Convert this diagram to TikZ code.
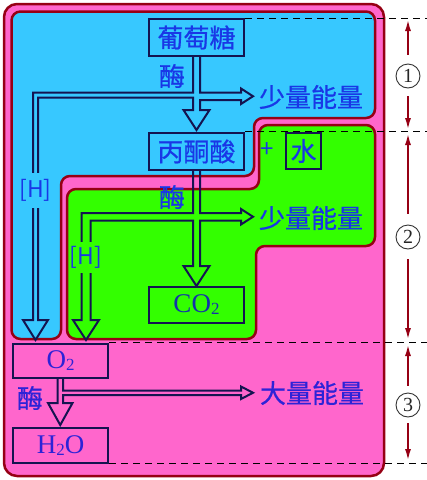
\documentclass[tikz,border=0pt]{standalone}
\usepackage{fontspec}
\setmainfont{Liberation Serif}
\newfontfamily\cjk[FakeBold=0.6]{Noto Sans CJK SC}
\newfontfamily\cjkthin{Noto Sans CJK SC}
\usetikzlibrary{arrows.meta}
\definecolor{pinkbg}{RGB}{255,102,204}
\definecolor{skyb}{RGB}{55,200,255}
\definecolor{limeg}{RGB}{51,255,0}
\definecolor{dred}{RGB}{150,0,20}
\definecolor{navy}{RGB}{20,20,80}
\definecolor{txtb}{RGB}{25,55,230}
\definecolor{txtp}{RGB}{45,35,215}
\definecolor{txtc}{RGB}{20,50,170}
\newcommand{\chsub}[1]{\raisebox{-2pt}{\fontsize{17}{17}\selectfont #1}}
\begin{document}
\begin{tikzpicture}[x=1pt,y=-1pt,
  region/.style={draw=dred, line width=2.5pt, rounded corners=9pt},
  box/.style={draw=navy, line width=2.5pt, inner sep=0pt, minimum width=95pt, minimum height=37pt},
  pipe/.style={draw=navy, line width=2pt, line join=miter},
  cjklab/.style={font=\cjk\fontsize{26}{26}\selectfont, text=txtb, inner sep=0pt},
  chem/.style={font=\fontsize{27}{27}\selectfont, text=txtp},
  hlab/.style={font=\cjkthin\fontsize{23}{23}\selectfont, text=txtb, inner sep=1pt},
  level/.style={draw=dred, line width=2pt, -{Latex[length=12pt,width=6pt]}},
  sep/.style={draw=black, line width=0.9pt, dash pattern=on 7pt off 5pt},
  num/.style={circle, draw=black!80, line width=0.9pt, minimum size=24pt, inner sep=0pt, font=\fontsize{20}{20}\selectfont, text=black!85}
]
\useasboundingbox (0,0) rectangle (427,480);
% regions
\draw[region, fill=pinkbg, rounded corners=13pt] (4,4) rectangle (384,476);
\draw[region, fill=skyb] (11.5,11.5) -- (375,11.5) -- (375,118) -- (254,118) -- (254,176) -- (61,176) -- (61,339) -- (11.5,339) -- cycle;
\draw[region, fill=limeg] (259,125) -- (375,125) -- (375,246) -- (256,246) -- (256,339) -- (67,339) -- (67,189) -- (259,189) -- cycle;
% pipes
\draw[pipe] (193,57) -- (193,92.5) -- (33,92.5) -- (33,320) -- (23,320) -- (35.5,340) -- (48,320) -- (38,320) -- (38,97.5) -- (193,97.5) -- (193,110) -- (183.5,110) -- (196.5,130) -- (209.5,110) -- (200,110) -- (200,100) -- (241,100) -- (241,104) -- (253,96.25) -- (241,88.5) -- (241,92.5) -- (200,92.5) -- (200,57);
\draw[pipe] (193,171) -- (193,213) -- (81.5,213) -- (81.5,320) -- (73,320) -- (86,340) -- (99,320) -- (90.5,320) -- (90.5,220.5) -- (193,220.5) -- (193,266) -- (183.5,266) -- (196.5,286) -- (209.5,266) -- (200,266) -- (200,220.5) -- (241,220.5) -- (241,224.5) -- (253,216.75) -- (241,209) -- (241,213) -- (200,213) -- (200,171);
\draw[pipe] (57.5,379) -- (57.5,403) -- (48,403) -- (60.25,425) -- (72.5,403) -- (63,403) -- (63,395) -- (241,395) -- (241,399) -- (253,392.75) -- (241,386.5) -- (241,390.5) -- (63,390.5) -- (63,379);
% [H] labels
\node[hlab, fill=skyb, minimum height=35pt] (h1) at (35.5,190.5) {[H]};
\node[hlab, fill=limeg, minimum height=31pt] (h2) at (86,257.5) {[H]};
% boxes
\node[box, fill=skyb, cjklab] (glc) at (196.5,37.5) {葡萄糖};
\node[box, fill=skyb, cjklab] (pyr) at (196.5,151.5) {丙酮酸};
\node[box, fill=limeg, cjklab, minimum width=35pt, minimum height=36pt] (water) at (303.5,151) {水};
\node[box, fill=limeg, chem, text=txtc, minimum height=36pt] (co2) at (196.5,305) {CO\chsub{2}};
\node[box, fill=pinkbg, chem, minimum height=34pt] (o2) at (60.5,361) {O\chsub{2}};
\node[box, fill=pinkbg, chem, minimum height=35pt] (h2o) at (60.5,445.5) {H\chsub{2}O};
% labels
\node[cjklab] (m1) at (172,76) {酶};
\node[cjklab] (m2) at (172,197) {酶};
\node[cjklab, text=txtp] (m3) at (30,398) {酶};
\node[cjklab] (s1) at (311,97) {少量能量};
\node[cjklab] (s2) at (311,218) {少量能量};
\node[cjklab, text=txtp] (big) at (312,393) {大量能量};
\node[font=\cjkthin\fontsize{24}{24}\selectfont, text=txtb, inner sep=0pt] (plus) at (267.5,150) {+};
% separators
\draw[sep] (245,18) -- (427,18);
\draw[sep] (245,131) -- (427,131);
\draw[sep] (109,342) -- (427,342);
\draw[sep] (109,463) -- (427,463);
% stage markers
\node[num] (n1) at (408,76) {1};
\node[num] (n2) at (408,237) {2};
\node[num] (n3) at (408,405) {3};
\coordinate (t1) at (408,19);
\coordinate (b1) at (408,130);
\coordinate (t2) at (408,133);
\coordinate (b2) at (408,340);
\coordinate (t3) at (408,344);
\coordinate (b3) at (408,461);
\draw[level, shorten <=9pt] (n1) -- (t1);
\draw[level, shorten <=8pt] (n1) -- (b1);
\draw[level, shorten <=11pt] (n2) -- (t2);
\draw[level, shorten <=10pt] (n2) -- (b2);
\draw[level, shorten <=7pt] (n3) -- (t3);
\draw[level, shorten <=6pt] (n3) -- (b3);
\end{tikzpicture}
\end{document}
